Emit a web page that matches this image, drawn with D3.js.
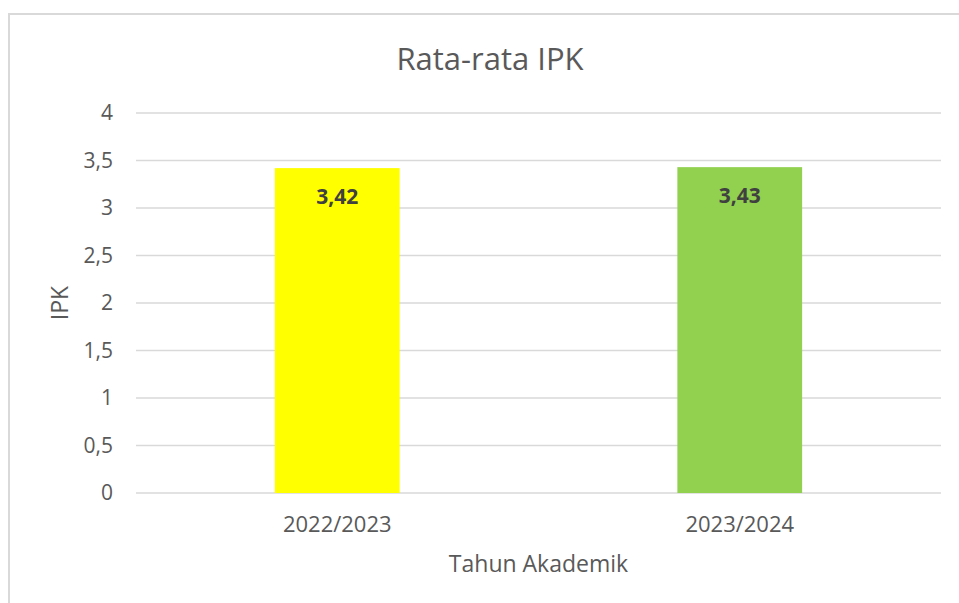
<!DOCTYPE html>
<html>
<head>
<meta charset="utf-8">
<script src="https://cdn.jsdelivr.net/npm/d3@7"></script>
<style>
  body { margin: 0; background: #fff; }
  svg text { font-family: "Open Sans", "Noto Sans", sans-serif; }
</style>
</head>
<body>
<svg id="chart" width="959" height="603"></svg>
<script>
// data
const years = ["2022/2023", "2023/2024"];
const ipk = [3.42, 3.43];
const barColors = ["#ffff00", "#92d050"];
const yTicks = [0, 0.5, 1, 1.5, 2, 2.5, 3, 3.5, 4];

const svg = d3.select("#chart");

// outer chart frame
svg.append("rect")
  .attr("x", 9).attr("y", 14)
  .attr("width", 980).attr("height", 620)
  .attr("fill", "none")
  .attr("stroke", "#d9d9d9")
  .attr("stroke-width", 2);

const plotLeft = 136, plotRight = 941, plotTop = 113, plotBottom = 493;

const x = d3.scaleBand()
  .domain(years)
  .range([plotLeft, plotRight])
  .paddingInner(0.69)
  .paddingOuter(0.345);

const y = d3.scaleLinear()
  .domain([0, 4])
  .range([plotBottom, plotTop]);

const fmt = v => String(v).replace(".", ",");

// gridlines
svg.append("g")
  .selectAll("line")
  .data(yTicks)
  .enter()
    .append("line")
    .attr("x1", plotLeft).attr("x2", plotRight)
    .attr("y1", d => y(d)).attr("y2", d => y(d))
    .attr("stroke", "#d9d9d9")
    .attr("stroke-width", 1.5);

// y axis labels
let yAxis = svg.append("g")
  .attr("transform", "translate(" + (plotLeft - 23) + ",0)")
  .call(d3.axisLeft(y).tickValues(yTicks).tickFormat(fmt).tickSize(0).tickPadding(0));
yAxis.select(".domain").remove();
yAxis.selectAll("text")
  .attr("fill", "#595959")
  .style("font-size", "21px");

// bars
svg.append("g")
  .selectAll("rect")
  .data(ipk)
  .enter()
    .append("rect")
    .attr("x", (d, i) => x(years[i]))
    .attr("y", d => y(d))
    .attr("width", x.bandwidth())
    .attr("height", d => plotBottom - y(d))
    .attr("fill", (d, i) => barColors[i]);

// value labels
svg.append("g")
  .selectAll("text")
  .data(ipk)
  .enter()
    .append("text")
    .attr("x", (d, i) => x(years[i]) + x.bandwidth() / 2)
    .attr("y", d => y(d) + 36)
    .attr("text-anchor", "middle")
    .attr("fill", "#404040")
    .style("font-size", "21px")
    .style("font-weight", "bold")
    .text(d => d.toFixed(2).replace(".", ","));

// x axis labels
let xAxis = svg.append("g")
  .attr("transform", "translate(0," + (plotBottom + 39) + ")")
  .call(d3.axisBottom(x).tickSize(0).tickPadding(0));
xAxis.select(".domain").remove();
xAxis.selectAll("text")
  .attr("fill", "#595959")
  .attr("dy", null)
  .style("font-size", "22px");

// titles
svg.append("text")
  .attr("x", 490).attr("y", 70)
  .attr("text-anchor", "middle")
  .attr("fill", "#595959")
  .style("font-size", "31px")
  .text("Rata-rata IPK");

svg.append("text")
  .attr("x", (plotLeft + plotRight) / 2).attr("y", 572)
  .attr("text-anchor", "middle")
  .attr("fill", "#595959")
  .style("font-size", "23px")
  .text("Tahun Akademik");

svg.append("text")
  .attr("transform", "translate(68," + ((plotTop + plotBottom) / 2) + ") rotate(-90)")
  .attr("text-anchor", "middle")
  .attr("fill", "#595959")
  .style("font-size", "23px")
  .text("IPK");
</script>
</body>
</html>
